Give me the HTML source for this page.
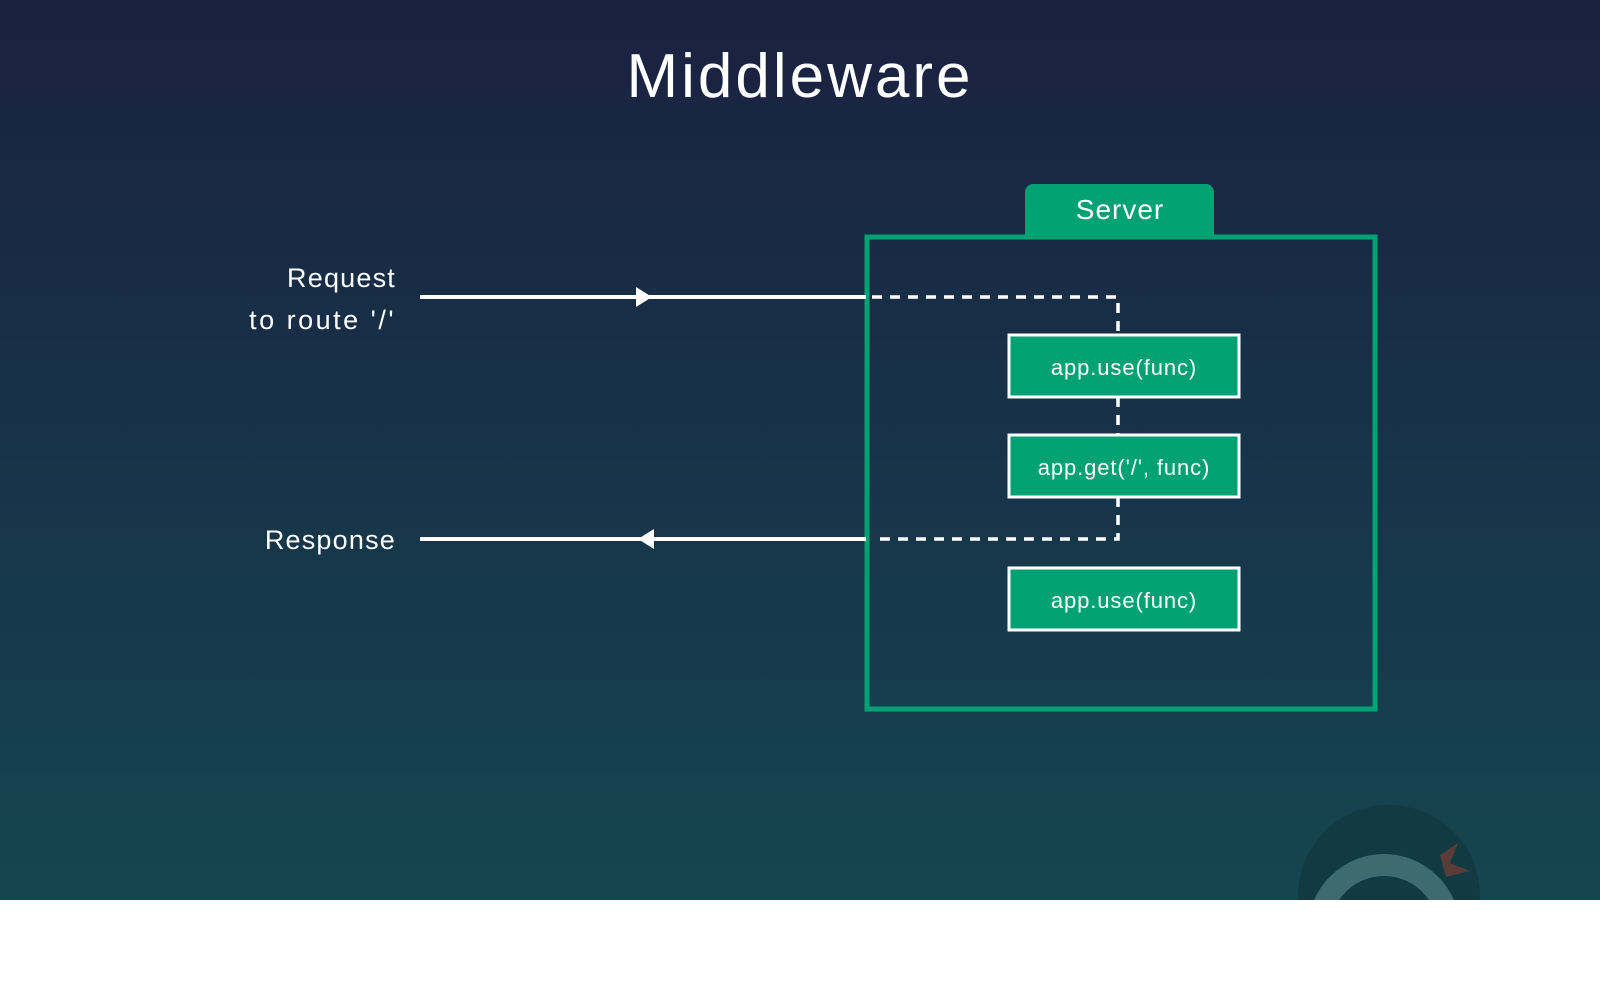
<!DOCTYPE html>
<html><head><meta charset="utf-8"><style>
html,body{margin:0;padding:0;width:1600px;height:990px;overflow:hidden;background:#fff;font-family:"Liberation Sans","DejaVu Sans",sans-serif;}
</style></head><body>
<svg width="1600" height="990" viewBox="0 0 1600 990" xmlns="http://www.w3.org/2000/svg">
<defs>
<linearGradient id="bg" x1="0" y1="0" x2="0" y2="1">
<stop offset="0" stop-color="#1a2141"/>
<stop offset="0.5" stop-color="#173349"/>
<stop offset="1" stop-color="#15464f"/>
</linearGradient>
<clipPath id="c"><rect x="0" y="0" width="1600" height="900"/></clipPath>
</defs>
<rect x="0" y="0" width="1600" height="900" fill="url(#bg)"/>
<g clip-path="url(#c)">
<circle cx="1389" cy="896" r="91" fill="#123a42"/>
<circle cx="1384" cy="930" r="65" fill="none" stroke="#3f6b70" stroke-width="22"/>
<path d="M1440 855 l18 -12 l-8 20 l20 8 l-24 6 z" fill="#5a3c38"/>
</g>
<rect x="0" y="900" width="1600" height="90" fill="#fff"/>
<text x="800" y="97" text-anchor="middle" fill="#fff" font-size="62" letter-spacing="3">Middleware</text>
<path d="M1025 236 V192 a8 8 0 0 1 8 -8 H1206 a8 8 0 0 1 8 8 V236 Z" fill="#00a274"/>
<text x="1120" y="219" text-anchor="middle" fill="#fff" font-size="28" letter-spacing="1">Server</text>
<rect x="867" y="237" width="508" height="472" fill="none" stroke="#00a274" stroke-width="5"/>
<text x="396" y="287" text-anchor="end" fill="#fff" font-size="27" letter-spacing="1.2">Request</text>
<text x="396" y="329" text-anchor="end" fill="#fff" font-size="27" letter-spacing="2.5">to route '/'</text>
<text x="396" y="549" text-anchor="end" fill="#fff" font-size="27" letter-spacing="1.2">Response</text>
<line x1="420" y1="297" x2="866" y2="297" stroke="#fff" stroke-width="4"/>
<path d="M636 287 L652 297 L636 307 Z" fill="#fff"/>
<line x1="420" y1="539" x2="866" y2="539" stroke="#fff" stroke-width="4"/>
<path d="M654 529 L638 539 L654 549 Z" fill="#fff"/>
<path d="M872 297 H1118 V335" fill="none" stroke="#fff" stroke-width="3.5" stroke-dasharray="10 8"/>
<path d="M1118 397 V435" fill="none" stroke="#fff" stroke-width="3.5" stroke-dasharray="10 8"/>
<path d="M1118 497 V539 H872" fill="none" stroke="#fff" stroke-width="3.5" stroke-dasharray="10 8"/>
<g font-size="22" fill="#fff" text-anchor="middle" letter-spacing="0.9">
<rect x="1009" y="335" width="230" height="62" fill="#00a274" stroke="#fff" stroke-width="3"/>
<text x="1124" y="375">app.use(func)</text>
<rect x="1009" y="435" width="230" height="62" fill="#00a274" stroke="#fff" stroke-width="3"/>
<text x="1124" y="475">app.get('/', func)</text>
<rect x="1009" y="568" width="230" height="62" fill="#00a274" stroke="#fff" stroke-width="3"/>
<text x="1124" y="608">app.use(func)</text>
</g>
</svg>
</body></html>
